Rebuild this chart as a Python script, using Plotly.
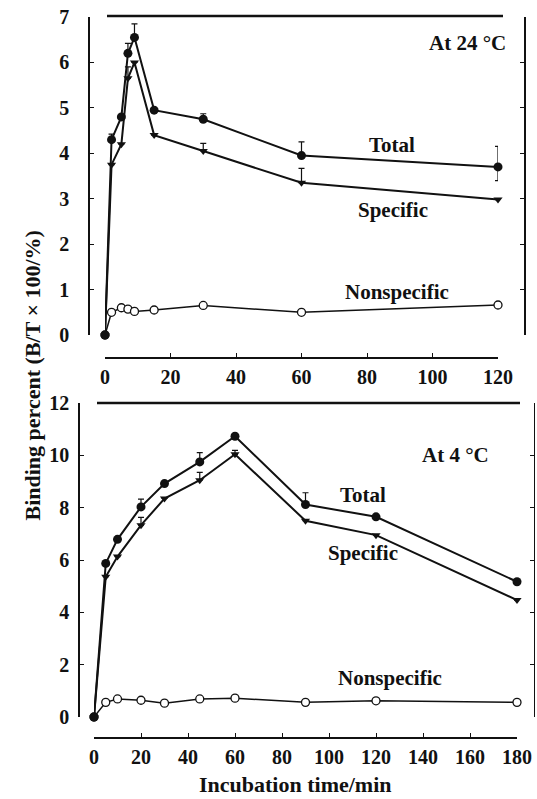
import plotly.graph_objects as go

W, H = 537, 799

# ---- Top panel: at 24 °C ----
t24 = [0, 2, 5, 7, 9, 15, 30, 60, 120]
total24 = [0, 4.3, 4.8, 6.2, 6.55, 4.95, 4.75, 3.95, 3.7]
total24_err = [0, 0.12, 0, 0.22, 0.3, 0, 0.12, 0.3, 0.45]
total24_errm = [0, 0, 0, 0, 0, 0, 0, 0, 0.3]
spec24 = [0, 3.75, 4.2, 5.65, 6.0, 4.4, 4.05, 3.35, 2.98]
spec24_err = [0, 0, 0, 0.25, 0, 0, 0.17, 0.32, 0]
nons24 = [0, 0.5, 0.6, 0.57, 0.52, 0.55, 0.65, 0.5, 0.66]

# ---- Bottom panel: at 4 °C ----
t4 = [0, 5, 10, 20, 30, 45, 60, 90, 120, 180]
total4 = [0, 5.87, 6.79, 8.03, 8.92, 9.75, 10.73, 8.12, 7.65, 5.17]
total4_err = [0, 0, 0, 0.3, 0, 0.35, 0, 0.45, 0, 0]
spec4 = [0, 5.36, 6.13, 7.33, 8.35, 9.05, 10.04, 7.5, 6.95, 4.47]
spec4_err = [0, 0, 0, 0.3, 0, 0.3, 0.15, 0, 0, 0]
nons4 = [0, 0.56, 0.69, 0.64, 0.53, 0.69, 0.72, 0.56, 0.62, 0.56]

x24_ticks = [0, 20, 40, 60, 80, 100, 120]
y24_ticks = [0, 1, 2, 3, 4, 5, 6, 7]
x4_ticks = [0, 20, 40, 60, 80, 100, 120, 140, 160, 180]
y4_ticks = [0, 2, 4, 6, 8, 10, 12]

FONT = "Liberation Serif"
BLACK = "#111111"


def px(x):
    return x / W


def py(y):
    return 1 - y / H


fig = go.Figure()


def add_panel(t, total, terr, terrm, spec, serr, nons, xa, ya):
    fig.add_trace(go.Scatter(
        x=t, y=nons, mode="lines+markers", xaxis=xa, yaxis=ya, cliponaxis=False,
        line=dict(color=BLACK, width=1.5),
        marker=dict(symbol="circle", size=8, color="white",
                    line=dict(color=BLACK, width=1.3)),
        showlegend=False))
    fig.add_trace(go.Scatter(
        x=t, y=spec, mode="lines+markers", xaxis=xa, yaxis=ya, cliponaxis=False,
        line=dict(color=BLACK, width=2),
        marker=dict(symbol="triangle-down", size=8, color=BLACK),
        error_y=dict(type="data", array=serr, symmetric=False,
                     arrayminus=[0] * len(serr), color=BLACK,
                     thickness=1.2, width=3),
        showlegend=False))
    fig.add_trace(go.Scatter(
        x=t, y=total, mode="lines+markers", xaxis=xa, yaxis=ya, cliponaxis=False,
        line=dict(color=BLACK, width=2),
        marker=dict(symbol="circle", size=9, color=BLACK),
        error_y=dict(type="data", array=terr, symmetric=False,
                     arrayminus=terrm, color=BLACK,
                     thickness=1.2, width=3),
        showlegend=False))


add_panel(t24, total24, total24_err, total24_errm, spec24, spec24_err, nons24, "x", "y")
add_panel(t4, total4, total4_err, [0] * len(t4), spec4, spec4_err, nons4, "x2", "y2")

tickfont = dict(family=FONT, size=20, color=BLACK, weight="bold")
common_x = dict(showgrid=False, zeroline=False, showline=True, linecolor=BLACK,
                linewidth=2, ticks="inside", ticklen=4, tickcolor=BLACK,
                tickfont=tickfont, anchor="free", ticklabelstandoff=1)
common_y = dict(showgrid=False, zeroline=False, showline=True, linecolor=BLACK,
                linewidth=1.5, ticks="inside", ticklen=4, tickcolor=BLACK,
                tickfont=tickfont, anchor="free")

fig.update_layout(
    width=W, height=H,
    margin=dict(l=0, r=0, t=0, b=0, autoexpand=False),
    paper_bgcolor="white", plot_bgcolor="white",
    font=dict(family=FONT, color=BLACK),
    xaxis=dict(common_x, domain=[px(105), px(498)], range=[0, 120],
               tickvals=x24_ticks, position=py(358)),
    yaxis=dict(common_y, domain=[py(335), py(17)], range=[0, 7],
               tickvals=y24_ticks, position=px(89), ticklabelstandoff=15),
    yaxis3=dict(overlaying="y", side="right", anchor="free", position=px(525),
                range=[0, 7], tickvals=y24_ticks, showticklabels=False,
                showgrid=False, zeroline=False, showline=True, linecolor=BLACK,
                linewidth=1.5, ticks="inside", ticklen=4, tickcolor=BLACK),
    xaxis2=dict(common_x, domain=[px(94), px(517)], range=[0, 180],
                tickvals=x4_ticks, position=py(738)),
    yaxis2=dict(common_y, domain=[py(717), py(403)], range=[0, 12],
                tickvals=y4_ticks, position=px(79), ticklabelstandoff=5),
    yaxis4=dict(overlaying="y2", side="right", anchor="free", position=px(534),
                range=[0, 12], tickvals=y4_ticks, showticklabels=False,
                showgrid=False, zeroline=False, showline=True, linecolor=BLACK,
                linewidth=1.2, ticks="inside", ticklen=4, tickcolor=BLACK),
)

# dummy traces so the right-side axes are rendered
fig.add_trace(go.Scatter(x=[None], y=[None], xaxis="x", yaxis="y3", showlegend=False))
fig.add_trace(go.Scatter(x=[None], y=[None], xaxis="x2", yaxis="y4", showlegend=False))

# top frame lines
fig.add_shape(type="line", xref="paper", yref="paper",
              x0=px(107), x1=px(503), y0=py(16), y1=py(16),
              line=dict(color=BLACK, width=2.5))
fig.add_shape(type="line", xref="paper", yref="paper",
              x0=px(97), x1=px(520), y0=py(403), y1=py(403),
              line=dict(color=BLACK, width=2.5))

ann_font = dict(family=FONT, size=21, color=BLACK, weight="bold")
texts = [
    ("At 24 °C", 467, 43),
    ("Total", 392, 145),
    ("Specific", 393, 210),
    ("Nonspecific", 397, 292),
    ("At 4 °C", 455, 455),
    ("Total", 363, 495),
    ("Specific", 363, 553),
    ("Nonspecific", 390, 678),
]
for txt, x, y in texts:
    fig.add_annotation(text=txt, xref="paper", yref="paper", x=px(x), y=py(y),
                       showarrow=False, font=ann_font, xanchor="center", yanchor="middle")

fig.add_annotation(text="Binding percent (B/T × 100/%)", xref="paper", yref="paper",
                   x=px(17), y=py(376), textangle=-90, showarrow=False,
                   font=dict(family=FONT, size=22, color=BLACK, weight="bold"))
fig.add_annotation(text="Incubation time/min", xref="paper", yref="paper",
                   x=px(295), y=0, yanchor="bottom", showarrow=False,
                   font=dict(family=FONT, size=22, color=BLACK, weight="bold"))

fig.write_html(
    "out.html",
    config={"displayModeBar": False},
    post_script="document.body.style.margin='0';document.body.style.overflow='hidden';",
)
